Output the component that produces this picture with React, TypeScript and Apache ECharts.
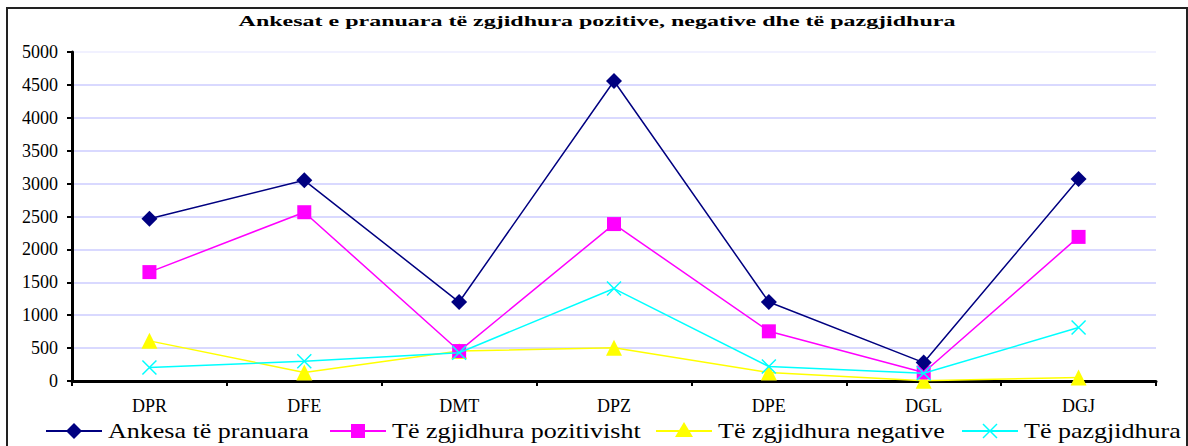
import React, { useEffect, useRef } from "react";
import * as echarts from "echarts";

const categories = ["DPR", "DFE", "DMT", "DPZ", "DPE", "DGL", "DGJ"];
const ankesa = [2465, 3050, 1200, 4560, 1200, 280, 3070];
const pozitiv = [1655, 2565, 455, 2385, 755, 130, 2190];
const negative = [610, 130, 455, 505, 130, 5, 55];
const pazgjidhura = [205, 300, 430, 1405, 220, 118, 812];
const seriesNames = [
  "Ankesa të pranuara",
  "Të zgjidhura pozitivisht",
  "Të zgjidhura negative",
  "Të pazgjidhura",
];
const seriesColors = ["#000080", "#ff00ff", "#ffff00", "#00ffff"];
const titleText =
  "Ankesat e pranuara të zgjidhura pozitive, negative dhe të pazgjidhura";
const yTicks = { min: 0, max: 5000, interval: 500 };

const SERIF = "Liberation Serif";

function legendItem(i: number, x0: number, y: number): any[] {
  const c = seriesColors[i];
  const cx = x0 + 28;
  const els: any[] = [
    {
      type: "line",
      shape: { x1: x0, y1: y, x2: x0 + 56, y2: y },
      style: { stroke: c, lineWidth: 2 },
      silent: true,
    },
  ];
  if (i === 0) {
    els.push({
      type: "polygon",
      shape: { points: [[cx, y - 8], [cx + 8, y], [cx, y + 8], [cx - 8, y]] },
      style: { fill: c },
      silent: true,
    });
  } else if (i === 1) {
    els.push({
      type: "rect",
      shape: { x: cx - 7, y: y - 7, width: 14, height: 14 },
      style: { fill: c },
      silent: true,
    });
  } else if (i === 2) {
    els.push({
      type: "polygon",
      shape: { points: [[cx, y - 9], [cx + 9, y + 6], [cx - 9, y + 6]] },
      style: { fill: c },
      silent: true,
    });
  } else {
    els.push(
      {
        type: "line",
        shape: { x1: cx - 7, y1: y - 7, x2: cx + 7, y2: y + 7 },
        style: { stroke: c, lineWidth: 1.5 },
        silent: true,
      },
      {
        type: "line",
        shape: { x1: cx + 7, y1: y - 7, x2: cx - 7, y2: y + 7 },
        style: { stroke: c, lineWidth: 1.5 },
        silent: true,
      }
    );
  }
  els.push({
    type: "text",
    x: x0 + 62,
    y: y,
    scaleX: 1.24,
    style: {
      text: seriesNames[i],
      fontFamily: SERIF,
      fontSize: 21,
      fill: "#000",
      textAlign: "left",
      textVerticalAlign: "middle",
    },
    silent: true,
  });
  return els;
}

export default function App() {
  const ref = useRef<HTMLDivElement>(null);
  useEffect(() => {
    if (!ref.current) return;
    const chart = echarts.init(ref.current, null, { renderer: "svg" });
    const gridColors = [
      "#ccccff", "#ccccff", "#ccccff", "#ccccff", "#ccccff", "#ccccff",
      "#ccccff", "#ccccff", "#ccccff", "#ccccff", "#ececff",
    ];
    const legendX = [46, 330, 656, 962];
    const legendEls: any[] = [];
    legendX.forEach((x, i) => legendEls.push(...legendItem(i, x, 431)));
    chart.setOption({
      animation: false,
      backgroundColor: "#ffffff",
      graphic: [
        {
          type: "rect",
          shape: { x: 7, y: 8, width: 1180, height: 460 },
          style: { fill: "none", stroke: "#222", lineWidth: 2 },
          silent: true,
        },
        {
          type: "text",
          x: 597,
          y: 21,
          scaleX: 1.6,
          style: {
            text: titleText,
            fontFamily: SERIF,
            fontWeight: "bold",
            fontSize: 15,
            fill: "#000",
            textAlign: "center",
            textVerticalAlign: "middle",
          },
          silent: true,
        },
        ...legendEls,
      ],
      grid: { left: 72, right: 32, top: 52, bottom: 65 },
      xAxis: {
        type: "category",
        data: categories,
        boundaryGap: true,
        axisLine: { lineStyle: { color: "#000", width: 3 } },
        axisTick: { show: true, length: 5, lineStyle: { color: "#000", width: 2 } },
        axisLabel: { fontFamily: SERIF, fontSize: 18, color: "#000", margin: 16 },
      },
      yAxis: {
        type: "value",
        min: yTicks.min,
        max: yTicks.max,
        interval: yTicks.interval,
        axisLine: { show: true, lineStyle: { color: "#000", width: 3 } },
        axisTick: { show: true, length: 5, lineStyle: { color: "#000", width: 2 } },
        axisLabel: {
          fontFamily: SERIF,
          fontSize: 18,
          color: "#000",
          margin: 14,
          formatter: (v: number) => String(v),
        },
        splitLine: { show: true, lineStyle: { color: gridColors, width: 1.5 } },
      },
      series: [
        {
          name: seriesNames[0],
          type: "line",
          data: ankesa,
          symbol: "diamond",
          symbolSize: 16,
          lineStyle: { color: seriesColors[0], width: 1.5 },
          itemStyle: { color: seriesColors[0] },
          z: 5,
        },
        {
          name: seriesNames[1],
          type: "line",
          data: pozitiv,
          symbol: "rect",
          symbolSize: 14,
          lineStyle: { color: seriesColors[1], width: 1.5 },
          itemStyle: { color: seriesColors[1] },
          z: 4,
        },
        {
          name: seriesNames[2],
          type: "line",
          data: negative,
          symbol: "triangle",
          symbolSize: 16,
          lineStyle: { color: seriesColors[2], width: 1.5 },
          itemStyle: { color: seriesColors[2] },
          z: 3,
        },
        {
          name: seriesNames[3],
          type: "line",
          data: pazgjidhura,
          symbol: "path://M0,0L10,10M10,0L0,10",
          symbolSize: 14,
          lineStyle: { color: seriesColors[3], width: 1.5 },
          itemStyle: { color: "none", borderColor: seriesColors[3], borderWidth: 1.5 },
          z: 6,
        },
      ],
    });
    return () => chart.dispose();
  }, []);
  return (
    <div
      ref={ref}
      style={{ position: "fixed", left: 0, top: 0, width: 1188, height: 446 }}
    />
  );
}
